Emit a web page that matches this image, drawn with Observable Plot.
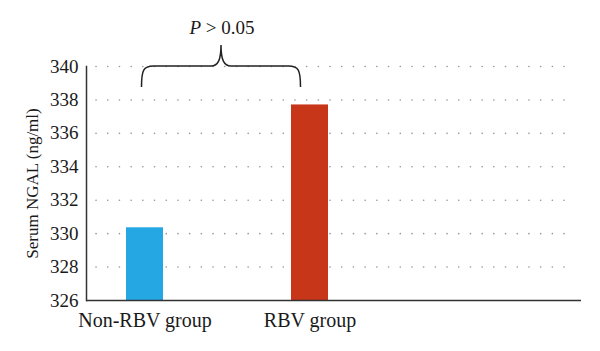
<!DOCTYPE html>
<html>
<head>
<meta charset="utf-8">
<script src="https://cdn.jsdelivr.net/npm/d3@7"></script>
<script src="https://cdn.jsdelivr.net/npm/@observablehq/plot@0.6"></script>
<style>
  html, body { margin: 0; padding: 0; background: #fff; }
  #chart { width: 600px; height: 351px; }
  #chart svg text { font-family: "Liberation Serif", "Times New Roman", serif; }
</style>
</head>
<body>
<div id="chart"></div>
<script>
const groups = ["Non-RBV group", "RBV group"];
const ngal = [330.35, 337.7];
const colors = ["#25a7e4", "#c8361a"];
const yTicks = [326, 328, 330, 332, 334, 336, 338, 340];
const gridTicks = [328, 330, 332, 334, 336, 338, 340];
const pLabel = "P > 0.05";
const yLabel = "Serum NGAL (ng/ml)";
const serif = "'Liberation Serif', 'Times New Roman', serif";

const data = groups.map((g, i) => ({group: g, value: ngal[i], color: colors[i]}));

const brace = (index, scales, values, dimensions) => {
  const x = scales.x, y = scales.y;
  const bw = x.bandwidth();
  const x0 = x(groups[0]) + bw / 2 - 3;
  const x1 = x(groups[1]) + bw / 2 - 9;
  const yt = y(340);
  const yb = yt + 21;
  const xm = (x0 + x1) / 2;
  const p = d3.path();
  p.moveTo(x0, yb);
  p.bezierCurveTo(x0, yt + 4, x0 + 2, yt, x0 + 12, yt);
  p.lineTo(xm - 10, yt);
  p.bezierCurveTo(xm - 3, yt, xm, yt - 6, xm, yt - 21);
  p.bezierCurveTo(xm, yt - 6, xm + 3, yt, xm + 10, yt);
  p.lineTo(x1 - 12, yt);
  p.bezierCurveTo(x1 - 2, yt, x1, yt + 4, x1, yb);
  const g = d3.create("svg:g");
  g.append("path").attr("d", p.toString()).attr("fill", "none")
    .attr("stroke", "#222").attr("stroke-width", 1.5);
  const t = g.append("text").attr("x", xm + 1).attr("y", yt - 32)
    .attr("text-anchor", "middle")
    .attr("font-family", serif).attr("font-size", 19).attr("fill", "#1a1a1a");
  t.append("tspan").attr("font-style", "italic").text(pLabel.split(" ")[0]);
  t.append("tspan").text(" " + pLabel.split(" ").slice(1).join(" "));
  return g.node();
};

const chart = Plot.plot({
  width: 600,
  height: 351,
  marginLeft: 86,
  marginRight: 19,
  marginTop: 66,
  marginBottom: 51,
  style: {fontFamily: serif, background: "#fff", color: "#1a1a1a", overflow: "visible"},
  x: {domain: groups, range: [126, 328], paddingInner: 0.776, paddingOuter: 0, label: null},
  y: {domain: [326, 340], label: null},
  marks: [
    Plot.ruleY(gridTicks, {stroke: "#999", strokeWidth: 1.6, strokeDasharray: "0.1 11.6", strokeLinecap: "round", insetLeft: 10, insetRight: 10}),
    Plot.barY(data, {x: "group", y1: 326, y2: "value", fill: "color"}),
    Plot.axisY(yTicks, {tickSize: 0, tickPadding: 8, fontSize: 19, fontFamily: serif, label: null}),
    Plot.text([yLabel], {frameAnchor: "left", dx: -54, rotate: -90, textAnchor: "middle", fontSize: 17, fontFamily: serif, text: d => d}),
    Plot.axisX({tickSize: 0, tickPadding: 12, fontSize: 20, fontFamily: serif, label: null}),
    Plot.ruleY([326], {stroke: "#333", strokeWidth: 1.5}),
    Plot.frame({anchor: "left", stroke: "#333", strokeWidth: 1.5}),
    brace
  ]
});
document.getElementById("chart").appendChild(chart);
</script>
</body>
</html>
